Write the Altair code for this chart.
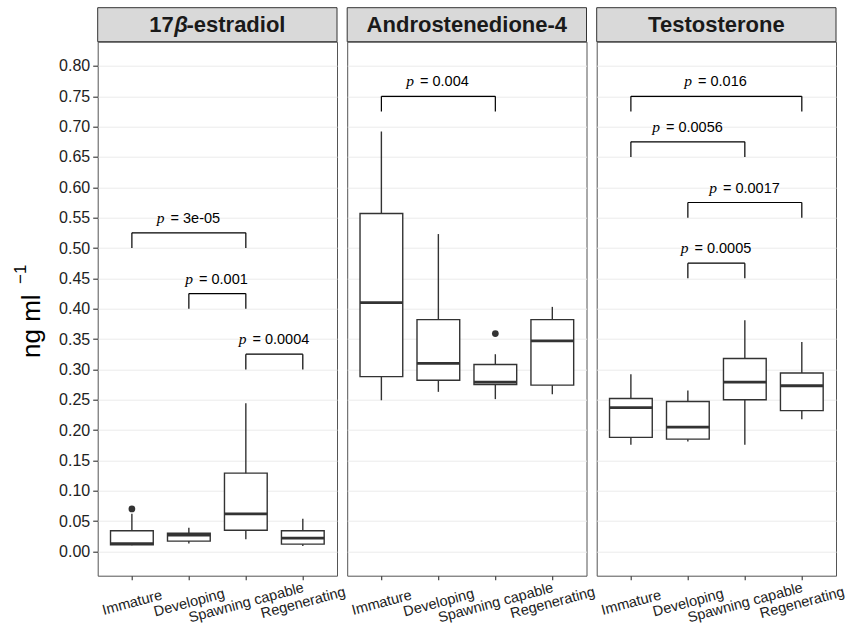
import json
import altair as alt
import pandas as pd

# ---------------- data ----------------
stages = ["Immature", "Developing", "Spawning capable", "Regenerating"]
hormones = ["17β-estradiol", "Androstenedione-4", "Testosterone"]

# box statistics per hormone (order follows `stages`)
estradiol_lower = [0.010, 0.013, 0.020, 0.009]
estradiol_q1 = [0.011, 0.017, 0.035, 0.012]
estradiol_median = [0.013, 0.027, 0.062, 0.022]
estradiol_q3 = [0.034, 0.030, 0.129, 0.034]
estradiol_upper = [0.062, 0.039, 0.244, 0.054]

andro_lower = [0.249, 0.263, 0.251, 0.259]
andro_q1 = [0.288, 0.282, 0.275, 0.274]
andro_median = [0.410, 0.310, 0.279, 0.347]
andro_q3 = [0.557, 0.382, 0.308, 0.382]
andro_upper = [0.692, 0.523, 0.325, 0.403]

testo_lower = [0.176, 0.181, 0.176, 0.218]
testo_q1 = [0.188, 0.185, 0.250, 0.232]
testo_median = [0.237, 0.205, 0.279, 0.273]
testo_q3 = [0.252, 0.247, 0.318, 0.294]
testo_upper = [0.292, 0.265, 0.381, 0.345]

# outliers
out_hormone = ["17β-estradiol", "Androstenedione-4"]
out_stage = ["Immature", "Spawning capable"]
out_value = [0.070, 0.359]

# pairwise comparisons
cmp_hormone = ["17β-estradiol", "17β-estradiol", "17β-estradiol",
               "Androstenedione-4",
               "Testosterone", "Testosterone", "Testosterone", "Testosterone"]
cmp_group1 = ["Immature", "Developing", "Spawning capable",
              "Immature",
              "Immature", "Immature", "Developing", "Developing"]
cmp_group2 = ["Spawning capable", "Spawning capable", "Regenerating",
              "Spawning capable",
              "Regenerating", "Spawning capable", "Regenerating", "Spawning capable"]
cmp_y = [0.525, 0.425, 0.325, 0.75, 0.75, 0.675, 0.575, 0.475]
cmp_p = ["3e-05", "0.001", "0.0004", "0.004", "0.016", "0.0056", "0.0017", "0.0005"]
tip = 0.025

y_ticks = [round(0.05 * i, 2) for i in range(17)]

# ---------------- tables ----------------
stats = {
    "17β-estradiol": (estradiol_lower, estradiol_q1, estradiol_median, estradiol_q3, estradiol_upper),
    "Androstenedione-4": (andro_lower, andro_q1, andro_median, andro_q3, andro_upper),
    "Testosterone": (testo_lower, testo_q1, testo_median, testo_q3, testo_upper),
}
rows = []
for h in hormones:
    lo, q1, md, q3, up = stats[h]
    for i, s in enumerate(stages):
        rows.append(dict(hormone=h, stage=s, idx=i + 1, lower=lo[i], q1=q1[i],
                         median=md[i], q3=q3[i], upper=up[i]))
box_df = pd.DataFrame(rows)

out_df = pd.DataFrame(dict(hormone=out_hormone, stage=out_stage, value=out_value))
out_df["idx"] = [stages.index(s) + 1 for s in out_df["stage"]]

cmp_df = pd.DataFrame(dict(hormone=cmp_hormone, g1=cmp_group1, g2=cmp_group2,
                           y=cmp_y, p=cmp_p))
cmp_df["i1"] = [stages.index(s) + 1 for s in cmp_df["g1"]]
cmp_df["i2"] = [stages.index(s) + 1 for s in cmp_df["g2"]]
cmp_df["ylo"] = cmp_df["y"] - tip

# ---------------- layout ----------------
W, H = 239.3, 534
PX_PER_UNIT = W / 4.2
INK = "#333333"

xs = alt.Scale(domain=[0.4, 4.6], nice=False, zero=False)
ys = alt.Scale(domain=[-0.04, 0.84], nice=False, zero=False)

x_axis = alt.Axis(values=[1, 2, 3, 4], labelExpr=f"{json.dumps(stages)}[datum.value - 1]",
                  title=None, grid=False, domain=False, ticks=True, tickSize=4,
                  tickColor=INK, tickWidth=1.1, labelAngle=-15, labelAlign="center",
                  labelBaseline="middle", labelPadding=23, labelFontSize=14.5,
                  labelColor="#222222", labelFlush=False, labelOverlap=False,
                  labelFont="Liberation Sans")


def y_axis(show):
    if show:
        return alt.Axis(values=y_ticks, format=".2f", title=None, grid=True,
                        gridColor="#EBEBEB", gridWidth=1, domain=False, tickSize=5,
                        tickColor=INK, tickWidth=1.1, labelPadding=3, labelFontSize=16,
                        labelColor="#222222", labelFont="Liberation Sans")
    return alt.Axis(values=y_ticks, title=None, grid=True, gridColor="#EBEBEB",
                    gridWidth=1, domain=False, ticks=False, labels=False)


def title_layers(h):
    base = alt.Chart(pd.DataFrame({"t": [h]}))
    strip = base.mark_rect(fill="#D9D9D9", stroke=INK, strokeWidth=1).encode(
        x=alt.value(0), x2=alt.value(W), y=alt.value(-34), y2=alt.value(0))
    kw = dict(font="Liberation Sans", fontSize=22, fontWeight="bold", color="#1a1a1a",
              baseline="middle")
    if h == "17β-estradiol":
        c = W / 2
        t1 = base.mark_text(align="right", **kw).encode(
            text=alt.value("17"), x=alt.value(c - 43.5), y=alt.value(-16.5))
        t2 = base.mark_text(align="left", fontStyle="italic", **kw).encode(
            text=alt.value("β"), x=alt.value(c - 43.0), y=alt.value(-16.5))
        t3 = base.mark_text(align="left", **kw).encode(
            text=alt.value("-estradiol"), x=alt.value(c - 30.9), y=alt.value(-16.5))
        return [strip, t1, t2, t3]
    t = base.mark_text(align="center", **kw).encode(
        text="t:N", x=alt.value(W / 2), y=alt.value(-16.5))
    return [strip, t]


def panel(h, first):
    X = lambda f: alt.X(f, scale=xs, axis=x_axis)
    Y = lambda f: alt.Y(f, scale=ys, axis=y_axis(first))

    boxes = alt.Chart(box_df).transform_filter(alt.datum.hormone == h).transform_calculate(
        x0="datum.idx - 0.375", x1="datum.idx + 0.375")
    whisker = boxes.mark_rule(color=INK, strokeWidth=1.4).encode(
        x=X("idx:Q"), y=Y("lower:Q"), y2="upper:Q")
    rect = boxes.mark_bar(fill="white", stroke=INK, strokeWidth=1.4).encode(
        x=X("x0:Q"), x2="x1:Q", y=Y("q1:Q"), y2="q3:Q")
    median = boxes.mark_rule(color=INK, strokeWidth=2.8).encode(
        x=X("x0:Q"), x2="x1:Q", y=Y("median:Q"))

    pts = alt.Chart(out_df).transform_filter(alt.datum.hormone == h).mark_circle(
        color=INK, opacity=1, size=45).encode(x=X("idx:Q"), y=Y("value:Q"))

    cm = alt.Chart(cmp_df).transform_filter(alt.datum.hormone == h).transform_calculate(
        mid="(datum.i1 + datum.i2) / 2",
        rest="'= ' + datum.p",
    ).transform_calculate(
        ax=f"datum.mid + (6.5 - length(datum.rest) * 7.1 / 2) / {PX_PER_UNIT}")
    hline = cm.mark_rule(color="black", strokeWidth=1.2).encode(
        x=X("i1:Q"), x2="i2:Q", y=Y("y:Q"))
    leg1 = cm.mark_rule(color="black", strokeWidth=1.2).encode(
        x=X("i1:Q"), y=Y("ylo:Q"), y2="y:Q")
    leg2 = cm.mark_rule(color="black", strokeWidth=1.2).encode(
        x=X("i2:Q"), y=Y("ylo:Q"), y2="y:Q")
    ptxt = cm.mark_text(align="right", baseline="alphabetic", dx=-6, dy=-10,
                        font="Liberation Serif", fontStyle="italic", fontSize=15.5,
                        color="black").encode(x=X("ax:Q"), y=Y("y:Q"), text=alt.value("p"))
    rtxt = cm.mark_text(align="left", baseline="alphabetic", dy=-10,
                        font="Liberation Sans", fontSize=14.5, color="black").encode(
        x=X("ax:Q"), y=Y("y:Q"), text="rest:N")

    layers = [whisker, rect, median, pts, hline, leg1, leg2, ptxt, rtxt] + title_layers(h)

    if first:
        tb = alt.Chart(pd.DataFrame({"t": ["ng ml"]}))
        ttl = tb.mark_text(align="left", baseline="alphabetic", angle=270,
                           font="Liberation Sans", fontSize=26, color="black").encode(
            text="t:N", x=alt.value(-57.7), y=alt.value(316.3))
        sup = tb.mark_text(align="left", baseline="alphabetic", angle=270,
                           font="Liberation Sans", fontSize=17, color="black").encode(
            text=alt.value("−1"), x=alt.value(-72.0), y=alt.value(242.3))
        layers += [ttl, sup]

    return alt.layer(*layers).properties(width=W, height=H)


# fixed canvas of 845 x 628; the first panel's plot area starts at (97.7, 41.7)
PAD_L, PAD_T = 97.7, 41.7
chart = alt.hconcat(*[panel(h, i == 0) for i, h in enumerate(hormones)],
                    spacing=9.5, bounds="flush").properties(
    autosize=alt.AutoSizeParams(type="none"),
    padding={"left": PAD_L, "top": PAD_T, "right": 845 - PAD_L, "bottom": 628 - PAD_T},
    background="white",
).configure_view(stroke="#555555", strokeWidth=1)

chart.save("out.html", embed_options={"renderer": "svg", "actions": False})
